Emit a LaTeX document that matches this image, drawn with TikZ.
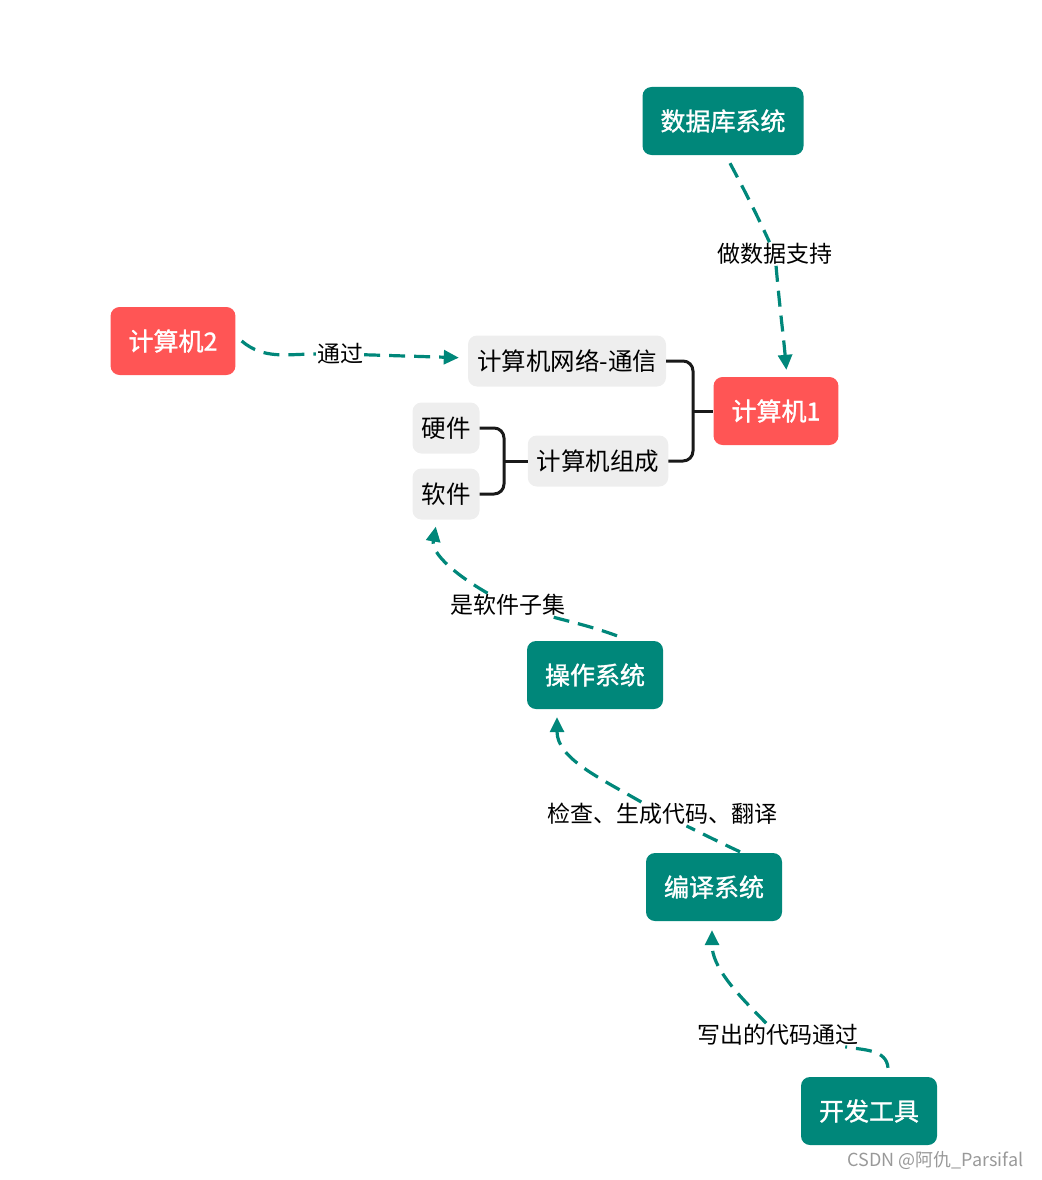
\documentclass[tikz,border=0pt]{standalone}
\usepackage{fontspec}
\usepackage{tikz}
\usetikzlibrary{arrows.meta}
\usepackage{xcolor}
\setmainfont{Noto Sans CJK SC}
\newfontfamily\boxfont[FakeBold=1.2]{Noto Sans CJK SC}
\definecolor{tealbox}{HTML}{00877A}
\definecolor{redbox}{HTML}{FF5555}
\definecolor{greybox}{HTML}{EEEEEE}

\begin{document}
\begin{tikzpicture}[x=1pt, y=-1pt,
        darkbox/.style={fill=tealbox, text=white, rounded corners=9pt, minimum height=68pt, inner xsep=18pt, font=\boxfont\fontsize{25}{29}\selectfont},
        hotbox/.style={darkbox, fill=redbox},
        lightbox/.style={fill=greybox, text=black, rounded corners=9pt, minimum height=51pt, inner xsep=9pt, font=\fontsize{24.5}{28}\selectfont},
        linklabel/.style={fill=white, inner sep=1pt, font=\fontsize{23}{26}\selectfont},
        flow/.style={draw=tealbox, line width=3.2pt, dash pattern=on 16pt off 9pt, -{Triangle[length=15pt,width=14pt]}},
        joinline/.style={draw=black!90, line width=3pt, rounded corners=10pt}]
                \useasboundingbox (0,0) rectangle (1041,1180);
                \node[darkbox] (db) at (723,121) {数据库系统};
                \node[hotbox] (pc2) at (173,341) {计算机2};
                \node[hotbox] (pc1) at (776,411) {计算机1};
                \node[lightbox] (net) at (567,361) {计算机网络-通信};
                \node[lightbox] (comp) at (598,461) {计算机组成};
                \node[lightbox] (hw) at (446,428) {硬件};
                \node[lightbox] (sw) at (446,494) {软件};
                \node[darkbox] (os) at (595,675) {操作系统};
                \node[darkbox] (cs) at (714,887) {编译系统};
                \node[darkbox] (dt) at (869,1111) {开发工具};
                \coordinate (j1) at (693,411);
                \coordinate (j2) at (504,461);
                \draw[joinline] (net.east) -| (j1) |- (comp.east);
                \draw[joinline] (j1) -- (pc1);
                \draw[joinline] (hw.east) -| (j2) |- (sw.east);
                \draw[joinline] (j2) -- (comp);
                \node[linklabel] (l1) at (340,354) {通过};
                \node[linklabel] (l2) at (775,254) {做数据支持};
                \node[linklabel] (l3) at (508,605) {是软件子集};
                \node[linklabel] (l4) at (662,814) {检查、生成代码、翻译};
                \node[linklabel] (l5) at (778,1035) {写出的代码通过};
                \draw[flow, shorten >=9pt] ([xshift=6pt]pc2.east) to[out=-40,in=180] (l1) -- (net);
                \draw[flow, shorten >=7pt] ([xshift=7pt,yshift=-8pt]db.south) to[out=-62,in=115] (l2) to[out=-85,in=95] ([xshift=11pt]pc1.north);
                \draw[flow, shorten >=7pt] ([xshift=22pt,yshift=5pt]os.north) to[out=160,in=-15] (l3) to[out=150,in=-100] ([xshift=-9pt]sw.south);
                \draw[flow, shorten >=8pt] ([xshift=26pt,yshift=1pt]cs.north) to[out=155,in=-26] (l4) to[out=150,in=-90] ([xshift=-38pt]os.south);
                \draw[flow, shorten >=9pt] ([xshift=19pt,yshift=9pt]dt.north) to[out=95,in=-10] (l5) to[out=135,in=-90] ([xshift=-2pt]cs.south);
                \node[text=black!40, font=\fontsize{18}{20}\selectfont, anchor=east] (mark) at (1027,1161) {CSDN @阿仇\_Parsifal};
\end{tikzpicture}
\end{document}
